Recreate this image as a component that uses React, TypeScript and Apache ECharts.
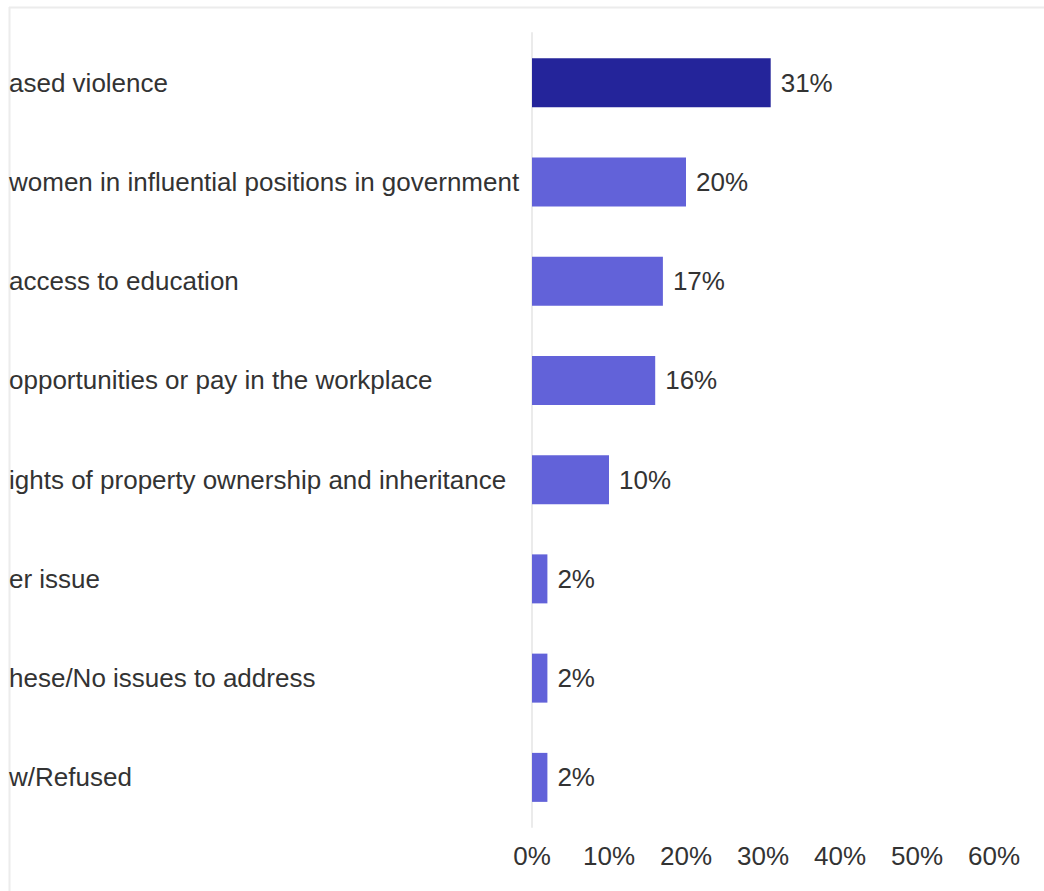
import React, { useEffect, useRef } from "react";
import * as echarts from "echarts";

const categories = [
  "ased violence",
  "women in influential positions in government",
  "access to education",
  "opportunities or pay in the workplace",
  "ights of property ownership and inheritance",
  "er issue",
  "hese/No issues to address",
  "w/Refused",
];
const values = [31, 20, 17, 16, 10, 2, 2, 2];
const highlightIndex = 0;
const axisMin = 0;
const axisMax = 60;
const axisInterval = 10;

const FONT = "'Liberation Sans', Arial, Helvetica, sans-serif";

export default function App() {
  const ref = useRef<HTMLDivElement>(null);
  useEffect(() => {
    if (!ref.current) return;
    const chart = echarts.init(ref.current, null, { renderer: "svg" });
    chart.setOption({
      animation: false,
      backgroundColor: "#ffffff",
      textStyle: { fontFamily: FONT },
      grid: { left: 532, right: 50, top: 33, bottom: 64, containLabel: false },
      xAxis: {
        type: "value",
        min: axisMin,
        max: axisMax,
        interval: axisInterval,
        axisLine: { show: false },
        axisTick: { show: false },
        splitLine: { show: false },
        axisLabel: {
          formatter: "{value}%",
          color: "#333333",
          fontSize: 26,
          fontFamily: FONT,
          margin: 16,
        },
      },
      yAxis: {
        type: "category",
        inverse: true,
        data: categories,
        axisLine: { show: true, lineStyle: { color: "#ebebeb", width: 2 } },
        axisTick: { show: false },
        splitLine: { show: false },
        axisLabel: {
          interval: 0,
          align: "left",
          margin: 523,
          color: "#333333",
          fontSize: 26,
          fontFamily: FONT,
        },
      },
      series: [
        {
          type: "bar",
          barWidth: 49,
          data: values.map((v, i) => ({
            value: v,
            itemStyle: { color: i === highlightIndex ? "#24249a" : "#6262d9" },
          })),
          label: {
            show: true,
            position: "right",
            distance: 10,
            formatter: "{c}%",
            color: "#333333",
            fontSize: 26,
            fontFamily: FONT,
          },
        },
      ],
      graphic: [
        {
          type: "line",
          shape: { x1: 9, y1: 7.5, x2: 1044, y2: 7.5 },
          style: { stroke: "#ececec", lineWidth: 2 },
          silent: true,
        },
        {
          type: "line",
          shape: { x1: 9.5, y1: 7, x2: 9.5, y2: 891 },
          style: { stroke: "#ececec", lineWidth: 2 },
          silent: true,
        },
      ],
    });
    return () => chart.dispose();
  }, []);
  return (
    <div
      ref={ref}
      style={{ position: "fixed", left: 0, top: 0, width: 1044, height: 891 }}
    />
  );
}
